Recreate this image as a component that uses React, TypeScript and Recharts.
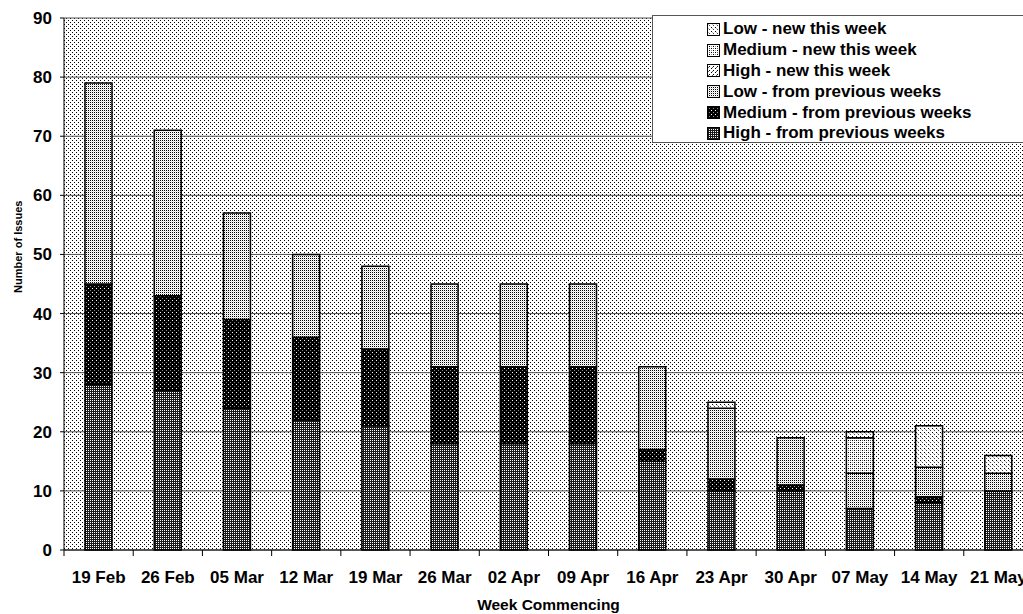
import React from "react";
import {
  BarChart,
  Bar,
  XAxis,
  YAxis,
  CartesianGrid,
  Label,
} from "recharts";

// Weekly issue counts, stacked from the bottom up
const weeks = [
  "19 Feb", "26 Feb", "05 Mar", "12 Mar", "19 Mar", "26 Mar", "02 Apr",
  "09 Apr", "16 Apr", "23 Apr", "30 Apr", "07 May", "14 May", "21 May",
];
const highPrev = [28, 27, 24, 22, 21, 18, 18, 18, 15, 10, 10, 7, 8, 10];
const mediumPrev = [17, 16, 15, 14, 13, 13, 13, 13, 2, 2, 1, 0, 1, 0];
const lowPrev = [34, 28, 18, 14, 14, 14, 14, 14, 14, 12, 8, 6, 5, 3];
const highNew = [0, 0, 0, 0, 0, 0, 0, 0, 0, 0, 0, 0, 0, 0];
const mediumNew = [0, 0, 0, 0, 0, 0, 0, 0, 0, 0, 0, 6, 0, 0];
const lowNew = [0, 0, 0, 0, 0, 0, 0, 0, 0, 1, 0, 1, 7, 3];
const yTicks = [0, 10, 20, 30, 40, 50, 60, 70, 80, 90];

const data = weeks.map((week, i) => ({
  week,
  highPrev: highPrev[i],
  mediumPrev: mediumPrev[i],
  lowPrev: lowPrev[i],
  highNew: highNew[i],
  mediumNew: mediumNew[i],
  lowNew: lowNew[i],
}));

// legend reads top-down, same as the stack from the top
const legendItems = [
  { key: "lowNew", label: "Low - new this week" },
  { key: "mediumNew", label: "Medium - new this week" },
  { key: "highNew", label: "High - new this week" },
  { key: "lowPrev", label: "Low - from previous weeks" },
  { key: "mediumPrev", label: "Medium - from previous weeks" },
  { key: "highPrev", label: "High - from previous weeks" },
];

const FONT = "'Liberation Sans', Arial, sans-serif";
const CHART_W = 1033;
const CHART_H = 614;
const Y_AXIS_W = 64;
const BAND = (CHART_W - Y_AXIS_W) / weeks.length;

// shared fill patterns (ids are global to the document)
function Patterns() {
  return (
    <svg width={0} height={0} style={{ position: "absolute" }}>
      <defs>
        <pattern id="pat-bg" width={4} height={4} patternUnits="userSpaceOnUse">
          <rect width={4} height={4} fill="#fff" />
          <rect x={0} y={0} width={1} height={1} fill="#000" />
          <rect x={2} y={2} width={1} height={1} fill="#000" />
        </pattern>
        <pattern id="pat-highPrev" width={2} height={2} patternUnits="userSpaceOnUse">
          <rect width={2} height={2} fill="#1a1a1a" />
          <rect x={0} y={0} width={1} height={1} fill="#fff" />
        </pattern>
        <pattern id="pat-mediumPrev" width={4} height={4} patternUnits="userSpaceOnUse">
          <rect width={4} height={4} fill="#000" />
          <rect x={0} y={0} width={1} height={1} fill="#fff" />
          <rect x={2} y={2} width={1} height={1} fill="#888" />
        </pattern>
        <pattern id="pat-lowPrev" width={2} height={2} patternUnits="userSpaceOnUse">
          <rect width={2} height={2} fill="#fff" />
          <rect x={0} y={0} width={1} height={1} fill="#000" />
          <rect x={1} y={1} width={1} height={1} fill="#ddd" />
        </pattern>
        <pattern id="pat-highNew" width={4} height={4} patternUnits="userSpaceOnUse">
          <rect width={4} height={4} fill="#fff" />
          <rect x={0} y={0} width={1} height={1} fill="#000" />
          <rect x={2} y={2} width={1} height={1} fill="#000" />
          <rect x={1} y={3} width={1} height={1} fill="#666" />
        </pattern>
        <pattern id="pat-mediumNew" width={4} height={4} patternUnits="userSpaceOnUse">
          <rect width={4} height={4} fill="#fff" />
          <rect x={0} y={0} width={1} height={1} fill="#000" />
          <rect x={2} y={0} width={1} height={1} fill="#555" />
          <rect x={2} y={2} width={1} height={1} fill="#000" />
          <rect x={0} y={2} width={1} height={1} fill="#999" />
        </pattern>
        <pattern id="pat-lowNew" width={4} height={4} patternUnits="userSpaceOnUse">
          <rect width={4} height={4} fill="#fff" />
          <rect x={0} y={0} width={1} height={1} fill="#000" />
          <rect x={2} y={2} width={1} height={1} fill="#444" />
          <rect x={1} y={1} width={1} height={1} fill="#bbb" />
        </pattern>
      </defs>
    </svg>
  );
}

function WeekTick(props: any) {
  const { x, y, payload, index } = props;
  const last = index === weeks.length - 1;
  return (
    <g>
      <line x1={x - BAND / 2} x2={x - BAND / 2} y1={y - 8} y2={y - 2} stroke="#000" />
      {last && (
        <line x1={x + BAND / 2} x2={x + BAND / 2} y1={y - 8} y2={y - 2} stroke="#000" />
      )}
      <text
        x={x}
        y={y + 25}
        textAnchor="middle"
        fontFamily={FONT}
        fontWeight="bold"
        fontSize={17}
        fill="#000"
      >
        {payload.value}
      </text>
    </g>
  );
}

function ChartLegend() {
  return (
    <div
      style={{
        position: "absolute",
        left: 652,
        top: 15,
        width: 380,
        height: 128,
        background: "#fff",
        border: "1px solid #555",
        boxSizing: "border-box",
        paddingTop: 3,
        paddingLeft: 54,
        fontFamily: FONT,
        fontWeight: "bold",
        fontSize: 17,
        color: "#000",
      }}
    >
      {legendItems.map((item) => (
        <div key={item.key} style={{ display: "flex", alignItems: "center", height: 20.8 }}>
          <svg width={13} height={13} style={{ marginRight: 3 }}>
            <rect x={0.5} y={0.5} width={12} height={12} fill={`url(#pat-${item.key})`} stroke="#000" />
          </svg>
          <span>{item.label}</span>
        </div>
      ))}
    </div>
  );
}

export default function App() {
  return (
    <div
      style={{
        position: "absolute",
        left: 0,
        top: 0,
        width: 1023,
        height: CHART_H,
        overflow: "hidden",
        background: "#fff",
      }}
    >
      <Patterns />
      <BarChart
        width={CHART_W}
        height={CHART_H}
        data={data}
        margin={{ top: 18, right: 0, bottom: 0, left: 0 }}
        barSize={27}
      >
        <CartesianGrid
          vertical={false}
          stroke="#555"
          fill="url(#pat-bg)"
          fillOpacity={1}
        />
        <XAxis
          dataKey="week"
          interval={0}
          height={64}
          tickLine={false}
          axisLine={{ stroke: "#000" }}
          tick={<WeekTick />}
        >
          <Label
            value="Week Commencing"
            position="insideBottom"
            offset={4}
            style={{ fontFamily: FONT, fontWeight: "bold", fontSize: 15.5, fill: "#000" }}
          />
        </XAxis>
        <YAxis
          width={Y_AXIS_W}
          domain={[0, 90]}
          ticks={yTicks}
          tickSize={4}
          tickMargin={8}
          axisLine={{ stroke: "#000" }}
          tickLine={{ stroke: "#000" }}
          tick={{ fontFamily: FONT, fontWeight: "bold", fontSize: 17, fill: "#000" }}
        >
          <Label
            content={({ viewBox }: any) => {
              const cx = 18;
              const cy = viewBox.y + viewBox.height * 0.43;
              return (
                <text
                  x={cx}
                  y={cy}
                  dy={4}
                  transform={`rotate(-90, ${cx}, ${cy})`}
                  textAnchor="middle"
                  fontFamily={FONT}
                  fontWeight="bold"
                  fontSize={11}
                  fill="#000"
                >
                  Number of Issues
                </text>
              );
            }}
          />
        </YAxis>
        {["highPrev", "mediumPrev", "lowPrev", "highNew", "mediumNew", "lowNew"].map((k) => (
          <Bar
            key={k}
            dataKey={k}
            stackId="issues"
            fill={`url(#pat-${k})`}
            stroke="#000"
            strokeWidth={1.5}
            isAnimationActive={false}
          />
        ))}
      </BarChart>
      <ChartLegend />
    </div>
  );
}
